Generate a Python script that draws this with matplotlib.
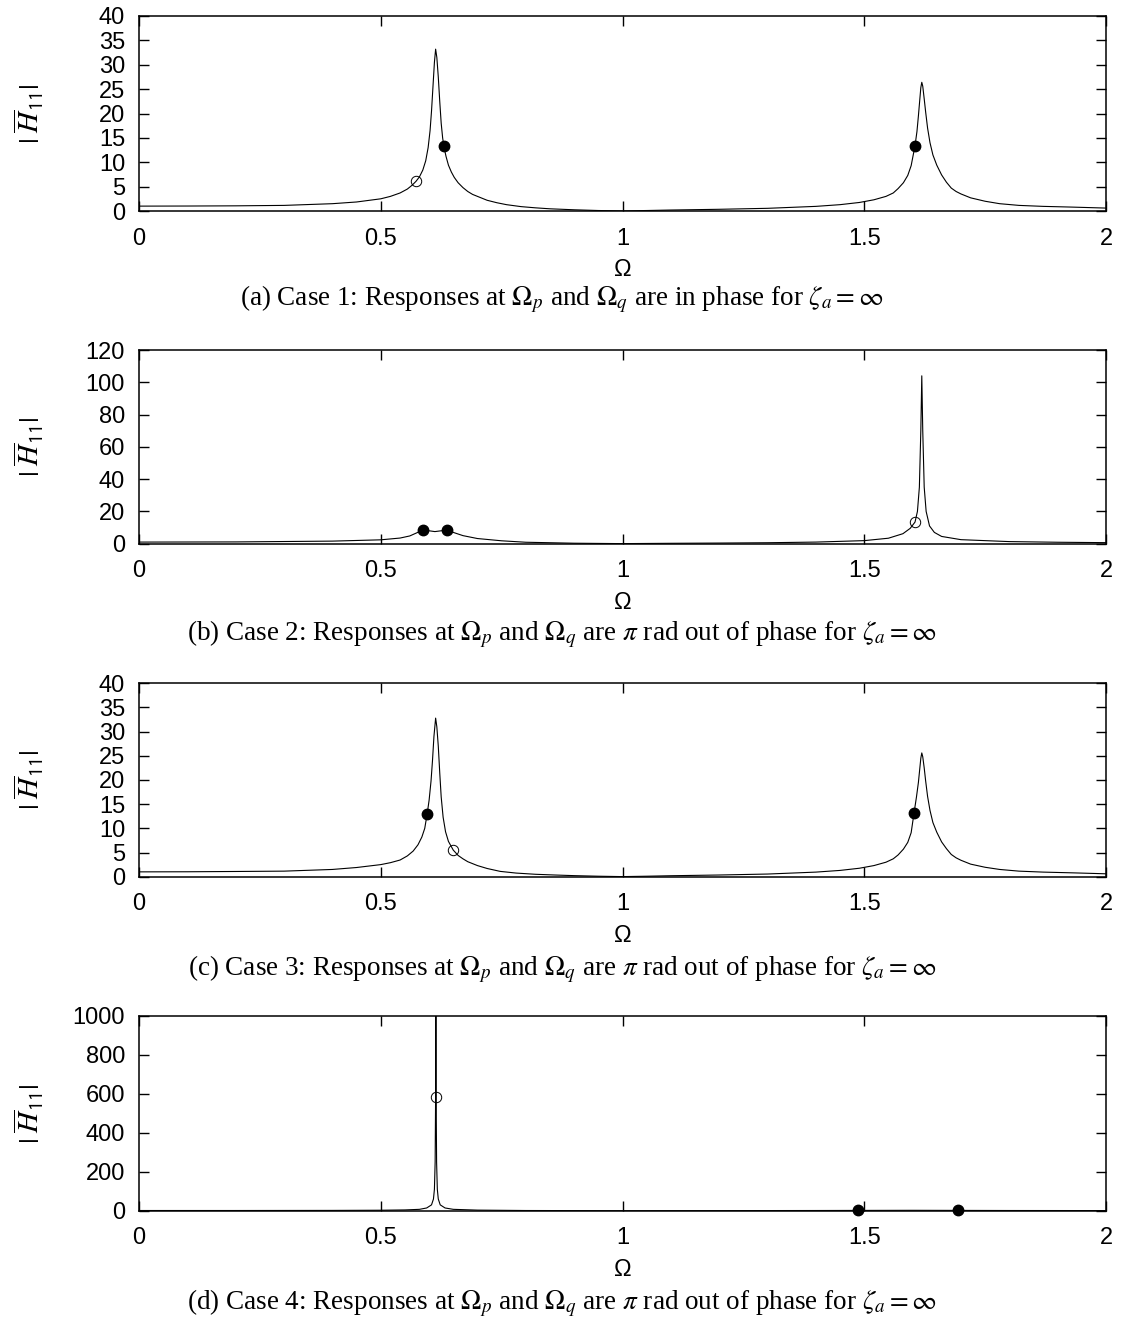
import matplotlib
matplotlib.use("Agg")
import matplotlib.pyplot as plt

plt.rcParams['font.family'] = ['Liberation Sans', 'DejaVu Sans']
plt.rcParams['mathtext.fontset'] = 'stix'

# Case 1 curve
omega_a = [0, 0.1, 0.2, 0.3, 0.4, 0.45, 0.5, 0.52, 0.54, 0.555, 0.565, 0.573, 0.58, 0.587,
           0.593, 0.598, 0.602, 0.605, 0.608, 0.611, 0.6135, 0.616, 0.619, 0.622, 0.625,
           0.628, 0.631, 0.635, 0.64, 0.646, 0.652, 0.66, 0.67, 0.68, 0.69, 0.705, 0.72,
           0.74, 0.76, 0.79, 0.82, 0.85, 0.9, 0.95, 1.0, 1.05, 1.1, 1.2, 1.3, 1.4, 1.45,
           1.49, 1.52, 1.545, 1.56, 1.57, 1.581, 1.59, 1.597, 1.605, 1.609, 1.612, 1.615,
           1.617, 1.619, 1.621, 1.624, 1.627, 1.631, 1.636, 1.642, 1.65, 1.66, 1.67, 1.68,
           1.69, 1.70, 1.72, 1.75, 1.78, 1.82, 1.87, 1.93, 2.0]
h_a = [1.0, 1.02, 1.06, 1.15, 1.5, 1.85, 2.5, 3.0, 3.7, 4.5, 5.3, 6.1, 7.0, 8.4,
       10.3, 13.0, 16.5, 20.5, 25.5, 30.5, 33.2, 31.5, 27.5, 22.5, 18.0,
       15.0, 13.0, 11.2, 9.4, 8.0, 6.9, 5.8, 4.8, 4.0, 3.4, 2.8, 2.2,
       1.7, 1.3, 0.9, 0.65, 0.45, 0.25, 0.1, 0.02, 0.1, 0.2, 0.35, 0.55, 0.95, 1.3,
       1.75, 2.3, 3.0, 3.7, 4.6, 5.8, 7.3, 9.3, 13.4, 16.3, 19.5, 23.0,
       25.3, 26.4, 25.6, 23.0, 20.3, 17.0, 14.0, 11.5, 9.4, 7.4, 5.9, 4.7,
       4.0, 3.5, 2.7, 2.0, 1.5, 1.15, 0.95, 0.8, 0.6]
full_a = [(0.630, 13.4), (1.605, 13.4)]
open_a = [(0.573, 6.1)]

# Case 2 curve
omega_b = [0, 0.2, 0.4, 0.5, 0.54, 0.56, 0.575, 0.587, 0.6, 0.612, 0.625, 0.638, 0.65, 0.67,
           0.7, 0.75, 0.8, 0.9, 1.0, 1.1, 1.2, 1.3, 1.4, 1.5, 1.55, 1.58, 1.595, 1.605, 1.61,
           1.614, 1.617, 1.619, 1.621, 1.624, 1.628, 1.635, 1.645, 1.66, 1.7, 1.8, 1.9, 2.0]
h_b = [1.0, 1.1, 1.6, 2.4, 3.5, 4.8, 6.8, 8.5, 8.0, 7.5, 8.0, 8.5, 7.0, 5.0,
       3.2, 1.8, 0.9, 0.3, 0.05, 0.25, 0.4, 0.6, 1.0, 1.9, 3.4, 6.2, 9.5, 13.4, 20.0,
       35.0, 70.0, 104.0, 70.0, 35.0, 20.0, 11.0, 7.0, 4.5, 2.5, 1.3, 0.9, 0.65]
full_b = [(0.587, 8.5), (0.638, 8.5)]
open_b = [(1.605, 13.4)]

# Case 3 curve
omega_c = [0, 0.1, 0.2, 0.3, 0.4, 0.45, 0.5, 0.52, 0.54, 0.555, 0.567, 0.577, 0.585, 0.591,
           0.596, 0.600, 0.604, 0.607, 0.610, 0.6135, 0.616, 0.619, 0.622, 0.625, 0.629,
           0.634, 0.64, 0.65, 0.66, 0.67, 0.68, 0.7, 0.72, 0.747, 0.78, 0.82, 0.86, 0.9,
           0.95, 1.0, 1.05, 1.1, 1.2, 1.3, 1.4, 1.45, 1.49, 1.52, 1.545, 1.56, 1.57, 1.581,
           1.59, 1.597, 1.603, 1.608, 1.612, 1.615, 1.617, 1.619, 1.621, 1.624, 1.627,
           1.631, 1.636, 1.642, 1.65, 1.66, 1.67, 1.68, 1.69, 1.70, 1.72, 1.75, 1.78, 1.82,
           1.87, 1.93, 2.0]
h_c = [1.0, 1.02, 1.08, 1.15, 1.5, 1.9, 2.5, 2.9, 3.45, 4.3, 5.3, 6.6, 8.2, 10.0,
       13.0, 15.8, 19.8, 24.0, 29.0, 32.8, 31.0, 27.0, 21.5, 16.5, 12.3,
       9.3, 7.3, 5.5, 4.4, 3.7, 3.1, 2.3, 1.7, 1.1, 0.75, 0.5, 0.35, 0.22,
       0.1, 0.02, 0.1, 0.2, 0.35, 0.55, 0.95, 1.3, 1.75, 2.3, 3.0, 3.7, 4.5, 5.7,
       7.1, 9.1, 13.2, 16.5, 19.5, 22.5, 24.5, 25.6, 24.8, 22.5, 19.8,
       16.6, 13.7, 11.2, 9.2, 7.2, 5.8, 4.6, 3.9, 3.4, 2.6, 1.95, 1.5, 1.15,
       0.95, 0.8, 0.6]
full_c = [(0.596, 13.0), (1.603, 13.2)]
open_c = [(0.650, 5.5)]

# Case 4 curve
omega_d = [0, 0.2, 0.4, 0.5, 0.55, 0.58, 0.595, 0.605, 0.609, 0.611, 0.6125, 0.6135,
           0.614, 0.6145, 0.6155, 0.617, 0.619, 0.623, 0.633, 0.65, 0.7, 0.8, 1.0, 1.2,
           1.4, 1.6, 1.8, 2.0]
h_d = [1, 1, 1.5, 2.4, 4, 7, 14, 30, 60, 110, 250, 600,
       1500, 600, 250, 110, 60, 30, 14, 7, 3, 1, 0, 0.4,
       1, 2, 1, 0.6]
full_d = [(1.487, 1.5), (1.694, 1.5)]
open_d = [(0.614, 585)]

x_ticks = [0, 0.5, 1, 1.5, 2]
x_labels = ['0', '0.5', '1', '1.5', '2']

captions = [
    r'(a) Case 1: Responses at $\Omega_p$ and $\Omega_q$ are in phase for $\zeta_a = \infty$',
    r'(b) Case 2: Responses at $\Omega_p$ and $\Omega_q$ are $\pi$ rad out of phase for $\zeta_a = \infty$',
    r'(c) Case 3: Responses at $\Omega_p$ and $\Omega_q$ are $\pi$ rad out of phase for $\zeta_a = \infty$',
    r'(d) Case 4: Responses at $\Omega_p$ and $\Omega_q$ are $\pi$ rad out of phase for $\zeta_a = \infty$',
]

panels = [
    (omega_a, h_a, full_a, open_a, 40, 5),
    (omega_b, h_b, full_b, open_b, 120, 20),
    (omega_c, h_c, full_c, open_c, 40, 5),
    (omega_d, h_d, full_d, open_d, 1000, 200),
]

W, H = 1124, 1327
fig = plt.figure(figsize=(W / 100, H / 100), dpi=100)

# axes boxes in pixels: (top, bottom)
boxes = [(16, 211), (350, 543.7), (683.3, 876.7), (1016, 1210.7)]
caption_y = [299, 634, 969, 1303]
left, right = 139, 1106

for i, (om, hh, full, opn, ymax, ystep) in enumerate(panels):
    top, bot = boxes[i]
    ax = fig.add_axes([left / W, 1 - bot / H, (right - left) / W, (bot - top) / H])
    ax.plot(om, hh, color='black', lw=0.8)
    ax.plot([p[0] for p in full], [p[1] for p in full], 'o', color='black',
            ms=7.5, clip_on=False, zorder=5)
    ax.plot([p[0] for p in opn], [p[1] for p in opn], 'o', mfc='none', mec='black',
            mew=0.7, ms=7.5, clip_on=False, zorder=5)
    ax.set_xlim(0, 2)
    ax.set_ylim(0, ymax)
    ax.set_xticks(x_ticks)
    ax.set_xticklabels(x_labels)
    ax.set_yticks(list(range(0, ymax + 1, ystep)))
    ax.tick_params(direction='in', top=True, right=True, length=7, width=1,
                   labelsize=17)
    ax.tick_params(axis='x', pad=12)
    ax.tick_params(axis='y', pad=10)
    for s in ax.spines.values():
        s.set_linewidth(1.1)
    ax.set_xlabel('Ω', fontsize=17)
    ax.xaxis.set_label_coords(0.5, -59 / (bot - top))
    ax.xaxis.label.set_va('center')
    ax.set_ylabel(r'$|\;\overline{H}_{\mathsf{11}}|$', fontsize=21)
    ax.yaxis.set_label_coords(-93 / (right - left), 0.5)
    fig.text(562 / W, 1 - caption_y[i] / H, captions[i], ha='center', va='center',
             fontsize=19.5, family='Liberation Serif')

fig.savefig('out.png', dpi=100)
